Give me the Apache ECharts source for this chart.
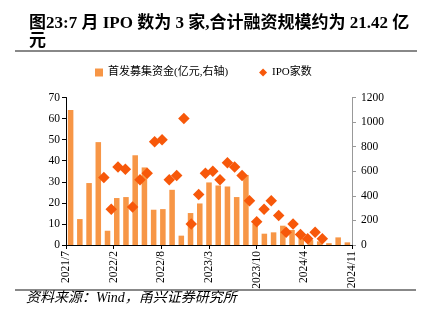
<!DOCTYPE html>
<html><head><meta charset="utf-8">
<script src="https://cdn.jsdelivr.net/npm/echarts@6/dist/echarts.min.js"></script>
<style>html,body{margin:0;padding:0;background:#fff}#c{width:424px;height:325px}</style>
</head><body><div id="c"></div>
<script>
// ---- data ----
const months = ['2022/1','2022/2','2022/3','2022/4','2022/5','2022/6','2022/7','2022/8','2022/9','2022/10','2022/11','2022/12',
  '2023/1','2023/2','2023/3','2023/4','2023/5','2023/6','2023/7','2023/8','2023/9','2023/10','2023/11','2023/12',
  '2024/1','2024/2','2024/3','2024/4','2024/5','2024/6','2024/7'];
const ipoFunds = [1098,211,504,837,116,382,390,730,631,287,292,449,
  76,260,338,509,484,476,390,570,173,92,103,157,
  122,57,40,30,15,62,21.42];
const ipoCount = [32,17,37,36,18,31,34,49,50,31,33,60,
  10,24,34,35,31,39,37,33,21,11,17,21,
  14,6,10,5,3,6,3];
const xTickLabels = ['2021/7','2022/2','2022/8','2023/3','2023/10','2024/4','2024/11'];
const axisOrigin = '2021/7/27';   // date at the left end of the date axis
const tickDays = 199;             // days between date-axis ticks
const leftAxisMax = 70, leftAxisStep = 10;
const rightAxisMax = 1200, rightAxisStep = 200;
const seriesNames = ['首发募集资金(亿元,右轴)', 'IPO家数'];
const titleText = '图23:7 月 IPO 数为 3 家,合计融资规模约为 21.42 亿\n元';
const sourceText = '资料来源：Wind，甬兴证券研究所';

// ---- helpers ----
function toUTC(s){ const p = s.split('/').map(Number); return Date.UTC(p[0], p[1]-1, p[2] || 1); }
const DAY = 86400000;
function dayOffset(m){ return Math.round((toUTC(m) - toUTC(axisOrigin)) / DAY); }

const SERIF = '"Liberation Serif","Noto Sans CJK SC",serif';
const chart = echarts.init(document.getElementById('c'), null, {renderer:'canvas'});
chart.setOption({
  backgroundColor:'#fff',
  animation:false,
  title:{
    text:titleText, left:24, top:10,
    textStyle:{fontFamily:SERIF, fontSize:17, fontWeight:'bold', color:'#000', lineHeight:18}
  },
  legend:{
    left:95, top:67, itemWidth:8, itemHeight:8, itemGap:31, padding:0,
    textStyle:{fontFamily:SERIF, fontSize:11, color:'#000'},
    data:[{name:seriesNames[0], icon:'rect'}, {name:seriesNames[1], icon:'diamond'}]
  },
  grid:{left:66, right:72, top:97.5, bottom:80},
  xAxis:[
    {type:'category', data:months, position:'top', boundaryGap:true, show:false},
    {type:'value', position:'bottom', min:0, max:tickDays*(xTickLabels.length-1), interval:tickDays,
     axisLine:{show:true, onZero:false, lineStyle:{color:'#000', width:1}},
     axisTick:{show:true, inside:false, length:4, lineStyle:{color:'#000'}},
     splitLine:{show:false},
     axisLabel:{rotate:90, margin:6, fontFamily:SERIF, fontSize:11.5, color:'#000',
       formatter:function(v){ return xTickLabels[Math.round(v/tickDays)] || ''; }}
    }
  ],
  yAxis:[
    {type:'value', min:0, max:leftAxisMax, interval:leftAxisStep, position:'left',
     axisLine:{show:true, lineStyle:{color:'#000'}},
     axisTick:{show:true, inside:false, length:4, lineStyle:{color:'#000'}},
     splitLine:{show:false},
     axisLabel:{margin:6, fontFamily:SERIF, fontSize:11.5, color:'#000'}},
    {type:'value', min:0, max:rightAxisMax, interval:rightAxisStep, position:'right',
     axisLine:{show:true, lineStyle:{color:'#999'}},
     axisTick:{show:true, inside:false, length:4, lineStyle:{color:'#999'}},
     splitLine:{show:false},
     axisLabel:{margin:9, fontFamily:SERIF, fontSize:11.5, color:'#000',
       formatter:function(v){ return String(v); }}}
  ],
  series:[
    {name:seriesNames[0], type:'bar', xAxisIndex:0, yAxisIndex:1, data:ipoFunds,
     barWidth:'60%', itemStyle:{color:'#F79646'}, z:2},
    {name:seriesNames[1], type:'scatter', xAxisIndex:1, yAxisIndex:0,
     data:months.map(function(m,i){ return [dayOffset(m), ipoCount[i]]; }),
     symbol:'diamond', symbolSize:11.5, itemStyle:{color:'#F7580A', opacity:1}, z:3}
  ],
  graphic:[
    {type:'line', shape:{x1:15, y1:51, x2:417, y2:51}, style:{stroke:'#888', lineWidth:2}},
    {type:'line', shape:{x1:15, y1:290, x2:416, y2:290}, style:{stroke:'#888', lineWidth:2}},
    {type:'text', left:26, top:291,
     style:{text:sourceText, font:'italic 14px "Liberation Serif","Noto Sans CJK SC",serif', fill:'#000'}}
  ]
});
</script></body></html>
